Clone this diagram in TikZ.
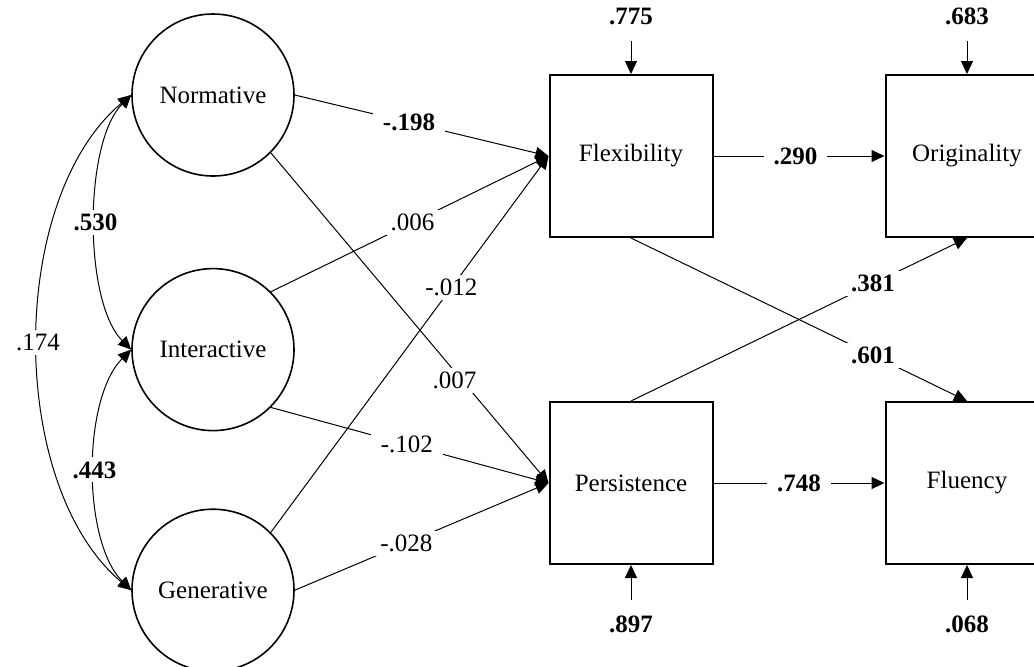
\documentclass[tikz,border=0pt]{standalone}
\usepackage{fontspec}
\setmainfont{Liberation Serif}
\usetikzlibrary{arrows.meta, positioning, calc}

\begin{document}
\begin{tikzpicture}[
    x=0.5pt, y=0.5pt,
    every node/.style={font=\fontsize{12.5pt}{14pt}\selectfont},
    latent/.style={circle, draw, line width=0.8pt, minimum size=81pt, inner sep=0pt},
    observed/.style={rectangle, draw, line width=1pt, minimum width=81.5pt, minimum height=81pt, inner sep=0pt},
    err/.style={inner sep=0pt, outer sep=8pt, font=\fontsize{12.5pt}{14pt}\selectfont\bfseries},
    coef/.style={fill=white, inner xsep=5pt, inner ysep=2pt},
    bcoef/.style={coef, font=\fontsize{12.5pt}{14pt}\selectfont\bfseries},
    arrow/.style={-{Triangle[length=6.5pt,width=6pt]}, line width=0.5pt},
    covar/.style={{Triangle[length=6.5pt,width=6pt]}-{Triangle[length=6.5pt,width=6pt]}, line width=0.5pt}
]
\useasboundingbox (0,0) rectangle (1034,-666);
% Latent factors
\node[latent] (norm) at (213,-95) {Normative};
\node[latent, below=45.5pt of norm] (inter) {Interactive};
\node[latent, below=38.5pt of inter] (gen) {Generative};
% Observed outcomes
\node[observed] (flex) at (631,-156) {Flexibility};
\node[observed, right=85.5pt of flex] (orig) {Originality};
\node[observed, below=81.5pt of flex] (pers) {Persistence};
\node[observed, right=85.5pt of pers] (flu) {Fluency};
% Error terms
\node[err, above=16.5pt of flex] (eflex) {.775};
\node[err, above=16.5pt of orig] (eorig) {.683};
\node[err, below=17.5pt of pers] (epers) {.897};
\node[err, below=17.5pt of flu] (eflu) {.068};
\draw[arrow] (eflex) -- (flex);
\draw[arrow] (eorig) -- (orig);
\draw[arrow] (epers) -- (pers);
\draw[arrow] (eflu) -- (flu);
% Paths to Flexibility
\draw[arrow] (norm.east) -- node[bcoef, pos=0.45] {-.198} (flex.west);
\draw[arrow] (inter.45) -- node[coef, pos=0.51] {.006} (flex.west);
\draw[arrow] (gen.45) -- node[coef, pos=0.65] {-.012} (flex.west);
% Paths to Persistence
\draw[arrow] (norm.-45) -- node[coef, pos=0.69, xshift=-4pt] {.007} (pers.west);
\draw[arrow] (inter.-45) -- node[coef, pos=0.49] {-.102} (pers.west);
\draw[arrow] (gen.east) -- node[coef, pos=0.44] {-.028} (pers.west);
% Paths to outcomes
\draw[arrow] (flex) -- node[bcoef, pos=0.48] {.290} (orig);
\draw[arrow] (pers) -- node[bcoef] {.748} (flu);
\draw[arrow] (flex.south) -- node[bcoef, pos=0.72] {.601} (flu.north);
\draw[arrow] (pers.north) -- node[bcoef, pos=0.72] {.381} (orig.south);
% Covariances
\draw[covar] (norm.west) to[out=225, in=135, looseness=0.68] node[bcoef] {.530} (inter.west);
\draw[covar] (inter.west) to[out=225, in=135, looseness=0.74] node[bcoef] {.443} (gen.west);
\draw[covar] (norm.west) to[out=220, in=140, looseness=0.84] node[coef] {.174} (gen.west);
\end{tikzpicture}
\end{document}
